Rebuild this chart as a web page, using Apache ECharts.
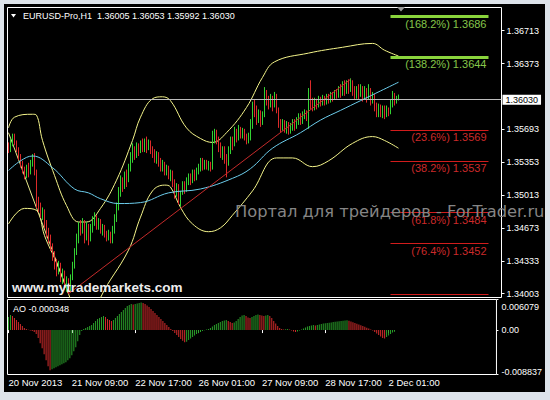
<!DOCTYPE html>
<html><head><meta charset="utf-8">
<script src="https://cdn.jsdelivr.net/npm/echarts/dist/echarts.min.js"></script>
<style>
html,body{margin:0;padding:0;background:#dde3ea;width:550px;height:400px;overflow:hidden}
#c{position:absolute;left:4px;top:4px;width:541px;height:388px;background:#000}
</style></head><body><div id="c"></div>
<script>
// Prices in pips above 1.3000 (e.g. 603 = 1.3603). Rows: [open, close, low, high], hourly bars from 20 Nov 2013 01:00
const ohlcPips = [
[552,548,545,556],[548,556,546,560],[556,562,552,565],[562,556,553,565],[556,549,546,558],
[549,541,538,551],[541,535,530,544],[535,528,524,537],[528,522,518,531],[522,530,519,533],
[530,526,520,535],[526,535,523,538],[535,540,531,544],[540,525,522,545],[525,495,488,528],
[495,490,484,500],[490,482,478,494],[482,485,476,489],[485,472,468,487],[472,463,458,476],
[463,457,452,468],[457,448,444,461],[448,440,434,452],[440,432,425,444],[432,425,418,436],
[425,430,420,434],[430,418,412,432],[418,422,410,426],[422,410,404,424],[410,414,402,418],
[414,405,400,416],[405,418,403,420],[418,430,414,433],[430,444,426,447],[444,458,440,462],
[458,470,452,474],[470,466,460,476],[466,474,462,478],[474,462,452,476],[462,470,455,474],
[470,458,450,472],[458,468,454,472],[468,475,463,480],[475,478,470,484],[478,470,466,481],
[470,474,466,478],[474,466,462,477],[466,468,460,472],[468,462,458,471],[462,458,454,465],
[458,462,455,466],[462,456,452,464],[456,466,452,470],[466,478,462,482],[478,490,474,494],
[490,505,486,510],[505,515,500,522],[515,512,505,520],[512,522,508,526],[522,518,510,528],
[518,530,515,534],[530,540,526,546],[540,548,535,555],[548,545,538,552],[545,552,540,556],
[552,548,542,555],[548,555,545,558],[555,550,546,560],[550,556,546,560],[556,552,545,562],
[552,556,548,559],[556,548,544,558],[548,545,540,552],[545,540,535,549],[540,543,534,547],
[543,536,531,546],[536,530,526,540],[530,534,526,538],[534,527,522,536],[527,530,522,533],
[530,522,518,532],[522,525,516,528],[525,515,510,527],[515,505,498,518],[505,510,500,514],
[510,498,492,513],[498,504,490,506],[504,512,502,516],[512,508,503,516],[508,516,505,520],
[516,520,512,524],[520,517,512,524],[517,524,514,528],[524,520,516,528],[520,527,517,530],
[527,530,523,534],[530,536,526,540],[536,532,527,540],[532,536,528,538],[536,532,528,538],
[532,534,527,537],[534,530,526,536],[530,560,528,568],[560,566,555,570],[566,558,554,569],
[558,552,546,562],[552,546,540,556],[546,549,538,552],[549,540,534,552],[540,535,520,544],
[535,548,532,552],[548,558,544,562],[558,554,548,562],[554,566,552,572],[566,562,556,570],
[562,568,558,574],[568,564,560,572],[564,568,560,571],[568,562,558,570],[562,558,554,565],
[558,562,555,566],[562,575,558,580],[575,592,570,598],[592,588,582,600],[588,580,574,594],
[580,586,576,590],[586,578,572,589],[578,585,574,588],[585,608,582,613],[608,600,594,610],
[600,596,590,604],[596,602,592,606],[602,594,588,604],[594,604,592,608],[604,590,586,606],
[590,576,571,592],[576,572,566,580],[572,576,568,580],[576,570,566,579],[570,574,565,578],
[574,568,564,577],[568,572,565,576],[572,576,568,580],[576,573,568,580],[573,578,570,582],
[578,582,574,586],[582,578,574,586],[578,584,575,588],[584,586,580,590],[586,583,578,589],
[583,606,570,612],[606,596,590,620],[596,592,588,602],[592,598,589,602],[598,595,590,601],
[595,600,592,604],[600,597,593,603],[597,601,594,605],[601,598,594,604],[598,603,595,606],
[603,600,596,606],[600,605,597,608],[605,602,598,608],[602,607,600,610],[607,605,601,611],
[605,610,602,614],[610,606,602,616],[606,614,604,619],[614,610,604,620],[610,616,606,620],
[616,612,606,621],[612,618,608,622],[618,610,604,620],[610,604,600,614],[604,610,601,614],
[610,606,600,616],[606,612,603,616],[612,605,598,614],[605,610,600,614],[610,604,597,612],
[604,609,600,616],[609,600,594,612],[600,604,596,608],[604,594,588,606],[594,588,582,597],
[588,592,582,596],[592,586,582,595],[586,590,581,594],[590,585,580,594],[585,590,582,594],
[590,587,583,592],[587,596,585,600],[596,604,592,609],[604,598,594,607],[598,600.5,596,604],
[600.5,603,599.2,605.3]
];
// Awesome Oscillator, units of 0.0001
const aoValues = [
26,30,28,24,20,16,12,8,4,2,0.5,-1,-2,-4,-8,-16,-26,-36,-48,-60,
-72,-80,-78,-76,-74,-72,-70,-68,-66,-64,-60,-56,-50,-42,-34,-22,-10,-2,2,4,
6,8,10,14,18,22,24,26,28,26,22,20,18,20,24,28,32,36,40,44,
48,50,52,51,52,53,54,55,54,52,49,46,42,38,34,30,26,22,18,14,
10,6,2,-2,-6,-10,-14,-18,-21,-24,-23,-20,-17,-14,-11,-8,-6,-4,-2,-0.5,
1,2,4,7,10,12,14,16,18,19,20,18,16,14,15,18,22,26,29,30,
28,25,24,26,28,30,31,30,29,28,29,30,28,24,18,13,8,4,2,1,
1.6,2,1,-1,-3,-4,-3,-1,1,3,5,7,8,9,10,9,10,11,12,13,
13.4,14,14.6,15.2,16,16.4,17,17.6,18,18.6,19,19.6,18.4,17,15.6,14,12.4,11,9.6,8,
6.4,4.8,3.2,1.2,-1,-4,-7,-10,-13,-16,-17,-14,-11,-8,-5,-3.48
];
// Bollinger bands and moving average: [bar index, pips]
const upperBand = [[0,571],[3,582],[12,585],[14,584],[17,558],[23,522],[29,491],[35,474],[39,474],[46,488],[54,517],[62,558],[66,582],[72,601],[77,603],[81,599],[89,571],[96,560],[102,556],[109,566],[119,592],[127,623],[133,639],[150,648],[167,654],[182,658],[188,651],[195,645]];
const lowerBand = [[0,472],[8,488],[14,486],[18,460],[24,432],[30,400],[36,367],[41,362],[46,396],[60,445],[66,479],[72,506],[78,512],[81,510],[86,489],[92,472],[100,464],[106,468],[112,481],[122,506],[134,540],[142,540],[152,531],[160,537],[172,555],[182,562],[188,558],[195,550]];
const movingAvg = [[0,527],[6,537],[12,542],[22,530],[33,508],[40,504],[46,498],[55,493],[66,494],[80,504],[96,508],[112,519],[121,529],[132,550],[146,566],[156,579],[166,589],[176,599],[186,609],[195,618]];
const fiboBaseLine = [[30,400],[171,621]];
const yellowTrendLine = [[0,566],[30,400]];

const slotCount = 247;
const timeTickIndex = [0,32,64,96,128,160,192];
const timeTickLabels = ['20 Nov 2013','21 Nov 09:00','22 Nov 17:00','26 Nov 01:00','27 Nov 09:00','28 Nov 17:00','2 Dec 01:00'];
const priceTicks = [1.36713,1.36373,1.35693,1.35353,1.35013,1.34673,1.34333,1.34003];
const lastPrice = 1.36030;
const aoTicks = [0.006079, 0, -0.008837];
const aoTickLabels = ['0.006079','0.00','-0.008837'];
const fibPrices = [1.3686,1.3644,1.3569,1.3537,1.3484,1.3452,1.3400];
const fibLabels = ['(168.2%) 1.3686','(138.2%) 1.3644','(23.6%) 1.3569','(38.2%) 1.3537','(61.8%) 1.3484','(76.4%) 1.3452',''];
const fibStartBar = 191, fibEndBar = 240;

const toPrice = p => +(1.3 + p / 10000).toFixed(6);
const categories = Array.from({length: slotCount}, (_, i) => String(i));
const candleData = ohlcPips.map(r => r.map(toPrice));
const pts = arr => arr.map(([i, p]) => [i, toPrice(p)]);
const aoData = aoValues.map(v => v / 10000);

const FONT = 'Liberation Sans';
const GREEN = '#33d233', RED = '#dc2a2a';
const FIB_GREEN = '#8ad43c', FIB_RED = '#d21c1c';

const fibMarks = fibPrices.map((p, k) => {
  const green = k < 2;
  const col = green ? FIB_GREEN : FIB_RED;
  return [{
    coord: [fibStartBar, p],
    lineStyle: {color: col, width: green ? 3 : 1, type: 'solid'},
    label: {show: fibLabels[k] !== '', position: 'insideEndBottom', formatter: fibLabels[k],
            color: green ? '#86c64a' : '#cc2a2a', fontSize: 11, fontFamily: FONT, distance: 2}
  }, {coord: [fibEndBar, p]}];
});

const chart = echarts.init(document.getElementById('c'), null, {renderer: 'svg'});
const tickOn = (idx) => timeTickIndex.indexOf(idx) >= 0;
chart.setOption({
  backgroundColor: '#000',
  animation: false,
  grid: [
    {left: 3.5, top: 3.5, width: 494, height: 290, show: true, borderColor: '#ffffff', borderWidth: 1, backgroundColor: 'transparent'},
    {left: 3.5, top: 295.5, width: 494, height: 75, show: true, borderColor: '#ffffff', borderWidth: 1, backgroundColor: 'transparent'}
  ],
  xAxis: [
    {type: 'category', gridIndex: 0, data: categories, show: false, boundaryGap: true},
    {type: 'category', gridIndex: 1, data: categories, boundaryGap: true,
     axisLine: {show: false},
     axisTick: {show: true, interval: tickOn, alignWithLabel: true, length: 3, lineStyle: {color: '#fff'}},
     axisLabel: {interval: tickOn, formatter: (v, idx) => timeTickLabels[timeTickIndex.indexOf(idx)] || '',
                 color: '#fff', fontSize: 9.5, fontFamily: FONT, align: 'left', margin: 3, hideOverlap: false}}
  ],
  yAxis: [
    {type: 'value', gridIndex: 0, position: 'right', min: 1.33962, max: 1.3695,
     splitLine: {show: false}, axisLine: {show: false},
     axisTick: {show: true, customValues: priceTicks, length: 3, lineStyle: {color: '#fff'}},
     axisLabel: {customValues: priceTicks, formatter: v => v.toFixed(5), color: '#fff', fontSize: 9, fontFamily: FONT, margin: 5}},
    {type: 'value', gridIndex: 1, position: 'right', min: -0.008837, max: 0.006079,
     splitLine: {show: false}, axisLine: {show: false},
     axisTick: {show: true, customValues: aoTicks, length: 2, lineStyle: {color: '#fff'}},
     axisLabel: {customValues: aoTicks, margin: 5,
       formatter: v => {
         const k = aoTicks.findIndex(t => Math.abs(t - v) < 1e-9);
         const name = k === 0 ? 'top' : (k === 2 ? 'bot' : 'mid');
         return '{' + name + '|' + (aoTickLabels[k] || '') + '}';
       },
       rich: {
         top: {padding: [15, 0, 0, 0], color: '#fff', fontSize: 9, fontFamily: FONT},
         mid: {color: '#fff', fontSize: 9, fontFamily: FONT},
         bot: {padding: [0, 0, 5, 0], color: '#fff', fontSize: 9, fontFamily: FONT}
       }}}
  ],
  series: [
    {type: 'line', name: 'BB upper', xAxisIndex: 0, yAxisIndex: 0, data: pts(upperBand), smooth: 0.4, showSymbol: false,
     lineStyle: {color: '#f4f48a', width: 1}, silent: true, z: 1},
    {type: 'line', name: 'BB lower', xAxisIndex: 0, yAxisIndex: 0, data: pts(lowerBand), smooth: 0.4, showSymbol: false,
     lineStyle: {color: '#f4f48a', width: 1}, silent: true, z: 1},
    {type: 'line', name: 'trend', xAxisIndex: 0, yAxisIndex: 0, data: pts(yellowTrendLine), showSymbol: false,
     lineStyle: {color: '#e8e88a', width: 1}, silent: true, z: 1},
    {type: 'candlestick', name: 'EURUSD', xAxisIndex: 0, yAxisIndex: 0, data: candleData, barWidth: 1,
     itemStyle: {color: GREEN, color0: RED, borderColor: GREEN, borderColor0: RED, borderWidth: 1},
     silent: true, z: 2,
     markLine: {symbol: ['none', 'none'], silent: true, animation: false,
       data: [
         {yAxis: lastPrice, lineStyle: {color: '#bcbcbc', width: 1, type: 'solid'},
          label: {show: true, position: 'end', formatter: lastPrice.toFixed(5), color: '#000', backgroundColor: '#fff',
                  padding: [1, 3, 0, 3], fontSize: 9, fontFamily: FONT, distance: 1}},
         ...fibMarks
       ]}},
    {type: 'line', name: 'MA', xAxisIndex: 0, yAxisIndex: 0, data: pts(movingAvg), smooth: 0.4, showSymbol: false,
     lineStyle: {color: '#6ccdec', width: 1}, silent: true, z: 3},
    {type: 'line', name: 'fibo', xAxisIndex: 0, yAxisIndex: 0, data: pts(fiboBaseLine), showSymbol: false,
     lineStyle: {color: '#c42a2a', width: 1}, silent: true, z: 3},
    {type: 'bar', name: 'AO', xAxisIndex: 1, yAxisIndex: 1, data: aoData, barWidth: 1, silent: true,
     itemStyle: {color: p => (p.dataIndex === 0 || aoValues[p.dataIndex] > aoValues[p.dataIndex - 1]) ? '#2aa02a' : '#d42c2c'}}
  ],
  graphic: [
    {type: 'polygon', shape: {points: [[7, 10], [12, 10], [9.5, 13.5]]}, style: {fill: '#fff'}, silent: true},
    {type: 'text', x: 19, y: 12, style: {text: 'EURUSD-Pro,H1  1.36005 1.36053 1.35992 1.36030', fill: '#fff',
      font: '9px "Liberation Sans"', verticalAlign: 'middle'}, silent: true},
    {type: 'polygon', shape: {points: [[393, 3], [401, 3], [397, 7.5]]}, style: {fill: '#9a9a9a'}, silent: true},
    {type: 'text', x: 8, y: 283, style: {text: 'www.mytrademarkets.com', fill: '#ececec',
      font: 'bold 13.5px "Liberation Sans"', verticalAlign: 'middle'}, silent: true, z: 10},
    {type: 'text', x: 231, y: 207, style: {text: 'Портал для трейдеров - ForTrader.ru', fill: '#858585',
      font: '16.3px "DejaVu Sans"', verticalAlign: 'middle'}, silent: true, z: 10},
    {type: 'text', x: 9, y: 305, style: {text: 'AO -0.000348', fill: '#fff',
      font: '9px "Liberation Sans"', verticalAlign: 'middle'}, silent: true, z: 10}
  ]
});
</script></body></html>
